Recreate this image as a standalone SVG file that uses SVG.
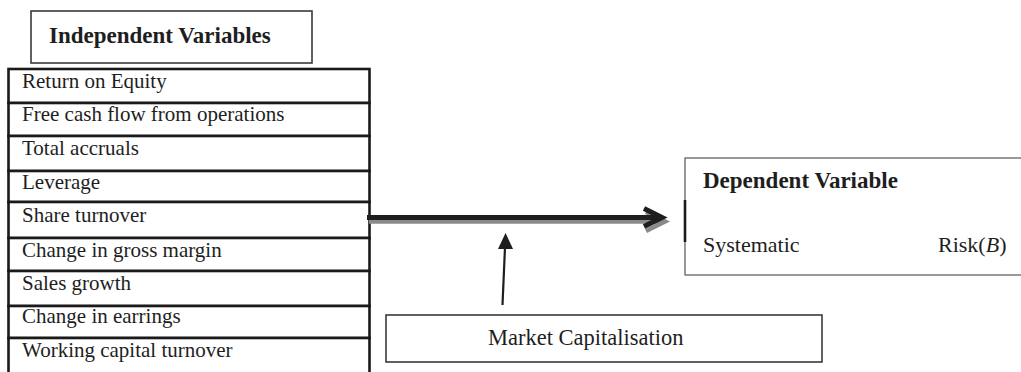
<svg xmlns="http://www.w3.org/2000/svg" width="1021" height="372" viewBox="0 0 1021 372">
  <style>
    .t { font-family: "Liberation Serif", "Times New Roman", serif; fill: #1e1e1e; }
    .row { font-size: 21px; }
    .hd { font-size: 23px; font-weight: bold; }
    .cell { fill: #ffffff; stroke: #1a1a1a; stroke-width: 2.6; }
    .box { fill: #ffffff; stroke: #3a3a3a; stroke-width: 1.6; }
  </style>
  <defs>
    <marker id="tri" markerWidth="16" markerHeight="16" refX="0" refY="0" viewBox="-8 -8 16 16" orient="auto" markerUnits="userSpaceOnUse">
      <path d="M0,0 L-15,-7.5 L-15,7.5 Z" fill="#1e1e1e"/>
    </marker>
  </defs>
  <rect x="0" y="0" width="1021" height="372" fill="#ffffff"/>

  <g id="independent-header">
    <rect class="box" x="31" y="11" width="281" height="52"/>
    <text class="t hd" x="49" y="43">Independent Variables</text>
  </g>

  <g id="independent-list">
    <g id="row-roe"><rect class="cell" x="8.5" y="69" width="361" height="34"/><text class="t row" x="22" y="88">Return on Equity</text></g>
    <g id="row-fcf"><rect class="cell" x="8.5" y="103" width="361" height="33"/><text class="t row" x="22" y="121">Free cash flow from operations</text></g>
    <g id="row-accruals"><rect class="cell" x="8.5" y="136" width="361" height="35"/><text class="t row" x="22" y="155">Total accruals</text></g>
    <g id="row-leverage"><rect class="cell" x="8.5" y="171" width="361" height="31"/><text class="t row" x="22" y="189">Leverage</text></g>
    <g id="row-share"><rect class="cell" x="8.5" y="202" width="361" height="36"/><text class="t row" x="22" y="222">Share turnover</text></g>
    <g id="row-margin"><rect class="cell" x="8.5" y="238" width="361" height="33"/><text class="t row" x="22" y="257">Change in gross margin</text></g>
    <g id="row-sales"><rect class="cell" x="8.5" y="271" width="361" height="35"/><text class="t row" x="22" y="290">Sales growth</text></g>
    <g id="row-earnings"><rect class="cell" x="8.5" y="306" width="361" height="32"/><text class="t row" x="22" y="323">Change in earrings</text></g>
    <g id="row-wct"><rect class="cell" x="8.5" y="338" width="361" height="40"/><text class="t row" x="22" y="357">Working capital turnover</text></g>
  </g>

  <g id="dependent">
    <rect x="685" y="158" width="340" height="117" fill="#ffffff" stroke="#555555" stroke-width="1.2"/>
    <line x1="685" y1="200" x2="685" y2="242" stroke="#1a1a1a" stroke-width="2.6"/>
    <text class="t hd" x="703" y="188">Dependent Variable</text>
    <text class="t" font-size="22" x="703" y="252">Systematic</text>
    <text class="t" font-size="22" x="938" y="252">Risk(<tspan font-style="italic">B</tspan>)</text>
  </g>

  <g id="moderator">
    <rect class="box" x="386" y="315" width="436" height="47"/>
    <text class="t" font-size="22.5" x="488" y="345">Market Capitalisation</text>
  </g>

  <g id="connectors">
    <g stroke="#8a8a8a" stroke-width="4.5" fill="none" stroke-linecap="butt" stroke-linejoin="miter">
      <line x1="369" y1="221.5" x2="663" y2="221.5"/>
      <polyline points="646,212 665,221.5 646,231"/>
    </g>
    <g stroke="#1e1e1e" stroke-width="5" fill="none" stroke-linecap="butt" stroke-linejoin="miter">
      <line x1="367" y1="217.5" x2="660" y2="217.5"/>
      <polyline points="644,208.5 662,217.5 644,226.5"/>
    </g>
    <line x1="502.5" y1="305" x2="505" y2="247" stroke="#1e1e1e" stroke-width="2.2"/>
    <path d="M505.5,233 L498,249 L513,249 Z" fill="#1e1e1e"/>
  </g>
</svg>
